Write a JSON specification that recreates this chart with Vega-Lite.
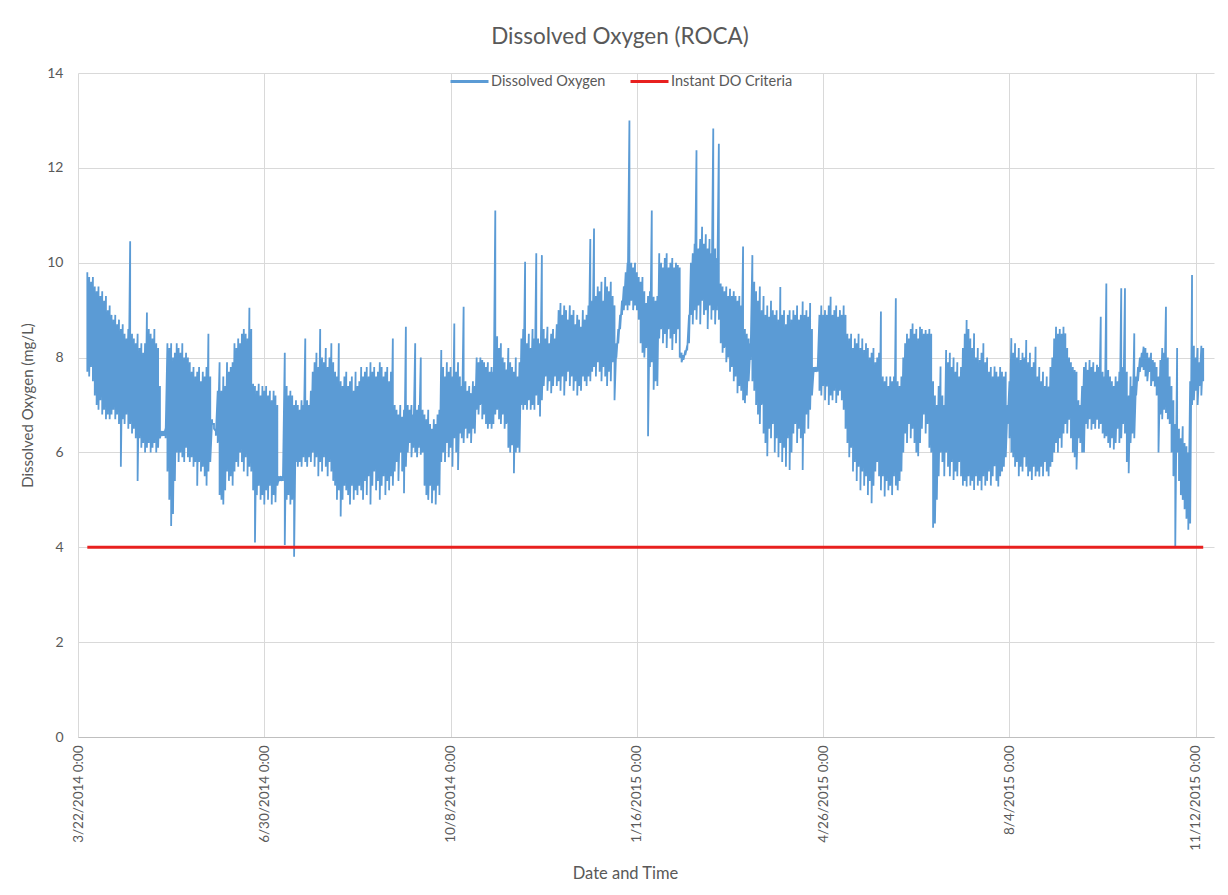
{
"$schema": "https://vega.github.io/schema/vega-lite/v6.json",
"width": 1136,
"height": 664,
"autosize": "none",
"padding": {"left": 78, "top": 73, "right": 14, "bottom": 158},
"background": "white",
"config": {"font": "Lato", "view": {"stroke": null}},
"title": {"text": "Dissolved Oxygen (ROCA)", "fontSize": 22.5, "fontWeight": "normal", "color": "#595959", "anchor": "middle", "offset": 13, "dx": -26},
"datasets": {
"do": [
{"d":"2014-03-27","h":9.8,"l":7.7},{"d":"2014-03-28","h":9.7,"l":7.6},{"d":"2014-03-29","h":9.6,"l":7.8},{"d":"2014-03-30","h":9.7,"l":7.5},{"d":"2014-03-31","h":9.5,"l":7.2},
{"d":"2014-04-01","h":9.4,"l":7.0},{"d":"2014-04-02","h":9.5,"l":6.9},{"d":"2014-04-03","h":9.3,"l":7.1},{"d":"2014-04-04","h":9.4,"l":6.8},{"d":"2014-04-05","h":9.2,"l":6.9},{"d":"2014-04-06","h":9.3,"l":6.7},{"d":"2014-04-07","h":9.0,"l":6.8},{"d":"2014-04-08","h":9.1,"l":6.7},{"d":"2014-04-09","h":8.9,"l":6.8},{"d":"2014-04-10","h":8.8,"l":6.9},{"d":"2014-04-11","h":8.9,"l":6.7},{"d":"2014-04-12","h":8.7,"l":6.8},{"d":"2014-04-13","h":8.8,"l":6.6},{"d":"2014-04-14","h":8.6,"l":5.7},{"d":"2014-04-15","h":8.7,"l":6.7},{"d":"2014-04-16","h":8.5,"l":6.6},{"d":"2014-04-17","h":8.4,"l":6.8},{"d":"2014-04-18","h":8.6,"l":6.5},{"d":"2014-04-19","h":10.45,"l":6.6},{"d":"2014-04-20","h":8.5,"l":6.4},{"d":"2014-04-21","h":8.4,"l":6.5},{"d":"2014-04-22","h":8.3,"l":6.3},{"d":"2014-04-23","h":8.5,"l":5.4},{"d":"2014-04-24","h":8.2,"l":6.3},{"d":"2014-04-25","h":8.3,"l":6.1},{"d":"2014-04-26","h":8.1,"l":6.2},{"d":"2014-04-27","h":8.3,"l":6.0},{"d":"2014-04-28","h":8.95,"l":6.1},{"d":"2014-04-29","h":8.6,"l":6.2},{"d":"2014-04-30","h":8.5,"l":6.0},
{"d":"2014-05-01","h":8.4,"l":6.1},{"d":"2014-05-02","h":8.6,"l":6.2},{"d":"2014-05-03","h":8.3,"l":6.0},{"d":"2014-05-04","h":8.2,"l":6.1},{"d":"2014-05-05","h":7.4,"l":6.3},{"d":"2014-05-06","h":6.45,"l":6.35},{"d":"2014-05-07","h":6.45,"l":6.35},{"d":"2014-05-08","h":6.5,"l":6.3},{"d":"2014-05-09","h":8.3,"l":5.6},{"d":"2014-05-10","h":8.2,"l":5.0},{"d":"2014-05-11","h":8.3,"l":4.45},{"d":"2014-05-12","h":8.0,"l":4.7},{"d":"2014-05-13","h":8.1,"l":5.4},{"d":"2014-05-14","h":8.3,"l":6.0},{"d":"2014-05-15","h":8.2,"l":5.8},{"d":"2014-05-16","h":8.1,"l":6.0},{"d":"2014-05-17","h":8.3,"l":5.9},{"d":"2014-05-18","h":8.0,"l":5.8},{"d":"2014-05-19","h":8.1,"l":6.1},{"d":"2014-05-20","h":8.0,"l":5.9},{"d":"2014-05-21","h":7.9,"l":5.8},{"d":"2014-05-22","h":7.7,"l":5.9},{"d":"2014-05-23","h":7.8,"l":5.7},{"d":"2014-05-24","h":7.6,"l":5.8},{"d":"2014-05-25","h":7.7,"l":5.3},{"d":"2014-05-26","h":7.8,"l":5.8},{"d":"2014-05-27","h":7.5,"l":5.6},{"d":"2014-05-28","h":7.7,"l":5.7},{"d":"2014-05-29","h":7.6,"l":5.5},{"d":"2014-05-30","h":7.8,"l":5.3},{"d":"2014-05-31","h":8.5,"l":5.6},
{"d":"2014-06-01","h":7.6,"l":5.8},{"d":"2014-06-02","h":6.7,"l":6.6},{"d":"2014-06-03","h":6.6,"l":6.5},{"d":"2014-06-04","h":6.45,"l":6.35},{"d":"2014-06-05","h":7.3,"l":6.2},{"d":"2014-06-06","h":7.9,"l":5.1},{"d":"2014-06-07","h":7.3,"l":5.0},{"d":"2014-06-08","h":7.6,"l":4.9},{"d":"2014-06-09","h":7.4,"l":5.2},{"d":"2014-06-10","h":7.9,"l":5.6},{"d":"2014-06-11","h":7.7,"l":5.4},{"d":"2014-06-12","h":7.8,"l":5.5},{"d":"2014-06-13","h":7.9,"l":5.3},{"d":"2014-06-14","h":8.3,"l":5.6},{"d":"2014-06-15","h":8.2,"l":5.8},{"d":"2014-06-16","h":8.4,"l":5.7},{"d":"2014-06-17","h":8.3,"l":6.0},{"d":"2014-06-18","h":8.5,"l":5.8},{"d":"2014-06-19","h":8.6,"l":5.6},{"d":"2014-06-20","h":8.5,"l":5.9},{"d":"2014-06-21","h":8.4,"l":5.5},{"d":"2014-06-22","h":9.05,"l":5.7},{"d":"2014-06-23","h":8.6,"l":5.6},{"d":"2014-06-24","h":7.45,"l":5.2},{"d":"2014-06-25","h":7.4,"l":4.1},{"d":"2014-06-26","h":7.3,"l":5.1},{"d":"2014-06-27","h":7.45,"l":5.3},{"d":"2014-06-28","h":7.2,"l":5.0},{"d":"2014-06-29","h":7.4,"l":5.1},{"d":"2014-06-30","h":7.3,"l":4.9},
{"d":"2014-07-01","h":7.4,"l":5.2},{"d":"2014-07-02","h":7.2,"l":5.0},{"d":"2014-07-03","h":7.3,"l":5.3},{"d":"2014-07-04","h":7.1,"l":4.9},{"d":"2014-07-05","h":7.3,"l":5.1},{"d":"2014-07-06","h":7.2,"l":4.95},{"d":"2014-07-07","h":7.0,"l":5.3},{"d":"2014-07-08","h":5.5,"l":5.4},{"d":"2014-07-09","h":5.5,"l":5.4},{"d":"2014-07-10","h":5.5,"l":5.4},{"d":"2014-07-11","h":8.1,"l":4.05},{"d":"2014-07-12","h":7.4,"l":5.0},{"d":"2014-07-13","h":7.2,"l":5.1},{"d":"2014-07-14","h":7.3,"l":4.9},{"d":"2014-07-15","h":7.2,"l":5.0},{"d":"2014-07-16","h":7.0,"l":3.8},{"d":"2014-07-17","h":7.1,"l":5.8},{"d":"2014-07-18","h":7.0,"l":5.7},{"d":"2014-07-19","h":6.9,"l":5.8},{"d":"2014-07-20","h":7.1,"l":5.7},{"d":"2014-07-21","h":7.0,"l":5.9},{"d":"2014-07-22","h":8.4,"l":5.8},{"d":"2014-07-23","h":7.1,"l":5.7},{"d":"2014-07-24","h":7.0,"l":5.9},{"d":"2014-07-25","h":7.3,"l":5.8},{"d":"2014-07-26","h":7.7,"l":6.0},{"d":"2014-07-27","h":7.9,"l":5.7},{"d":"2014-07-28","h":8.1,"l":5.9},{"d":"2014-07-29","h":7.8,"l":5.5},{"d":"2014-07-30","h":8.6,"l":5.8},{"d":"2014-07-31","h":8.0,"l":5.6},
{"d":"2014-08-01","h":7.9,"l":5.9},{"d":"2014-08-02","h":8.2,"l":5.7},{"d":"2014-08-03","h":7.8,"l":5.5},{"d":"2014-08-04","h":8.0,"l":5.8},{"d":"2014-08-05","h":8.3,"l":5.6},{"d":"2014-08-06","h":7.9,"l":5.4},{"d":"2014-08-07","h":7.7,"l":5.3},{"d":"2014-08-08","h":7.6,"l":5.0},{"d":"2014-08-09","h":8.3,"l":5.2},{"d":"2014-08-10","h":7.5,"l":4.65},{"d":"2014-08-11","h":7.4,"l":5.0},{"d":"2014-08-12","h":7.6,"l":5.3},{"d":"2014-08-13","h":7.7,"l":5.2},{"d":"2014-08-14","h":7.4,"l":5.1},{"d":"2014-08-15","h":7.5,"l":4.9},{"d":"2014-08-16","h":7.6,"l":5.3},{"d":"2014-08-17","h":7.3,"l":5.0},{"d":"2014-08-18","h":7.7,"l":5.2},{"d":"2014-08-19","h":7.4,"l":5.1},{"d":"2014-08-20","h":7.5,"l":5.3},{"d":"2014-08-21","h":7.8,"l":5.2},{"d":"2014-08-22","h":7.6,"l":5.0},{"d":"2014-08-23","h":7.7,"l":5.4},{"d":"2014-08-24","h":7.8,"l":5.1},{"d":"2014-08-25","h":7.6,"l":5.5},{"d":"2014-08-26","h":7.9,"l":4.9},{"d":"2014-08-27","h":7.7,"l":5.3},{"d":"2014-08-28","h":7.8,"l":5.6},{"d":"2014-08-29","h":7.6,"l":5.2},{"d":"2014-08-30","h":7.7,"l":5.4},{"d":"2014-08-31","h":7.9,"l":5.0},
{"d":"2014-09-01","h":7.8,"l":5.3},{"d":"2014-09-02","h":7.6,"l":5.5},{"d":"2014-09-03","h":7.7,"l":5.1},{"d":"2014-09-04","h":7.8,"l":5.4},{"d":"2014-09-05","h":7.5,"l":5.2},{"d":"2014-09-06","h":7.7,"l":5.5},{"d":"2014-09-07","h":8.4,"l":5.3},{"d":"2014-09-08","h":7.0,"l":5.6},{"d":"2014-09-09","h":6.9,"l":5.8},{"d":"2014-09-10","h":6.8,"l":5.4},{"d":"2014-09-11","h":7.0,"l":6.0},{"d":"2014-09-12","h":6.75,"l":5.6},{"d":"2014-09-13","h":6.9,"l":5.14},{"d":"2014-09-14","h":8.65,"l":5.7},{"d":"2014-09-15","h":7.0,"l":6.0},{"d":"2014-09-16","h":6.9,"l":6.2},{"d":"2014-09-17","h":7.0,"l":5.9},{"d":"2014-09-18","h":6.8,"l":6.1},{"d":"2014-09-19","h":8.3,"l":6.0},{"d":"2014-09-20","h":6.9,"l":5.9},{"d":"2014-09-21","h":7.0,"l":6.1},{"d":"2014-09-22","h":8.0,"l":5.95},{"d":"2014-09-23","h":6.9,"l":6.0},{"d":"2014-09-24","h":6.8,"l":5.3},{"d":"2014-09-25","h":6.7,"l":5.1},{"d":"2014-09-26","h":6.9,"l":5.0},{"d":"2014-09-27","h":6.6,"l":5.3},{"d":"2014-09-28","h":6.5,"l":4.93},{"d":"2014-09-29","h":6.7,"l":5.2},{"d":"2014-09-30","h":6.6,"l":4.9},
{"d":"2014-10-01","h":6.8,"l":5.3},{"d":"2014-10-02","h":6.9,"l":5.1},{"d":"2014-10-03","h":8.16,"l":5.8},{"d":"2014-10-04","h":7.8,"l":6.0},{"d":"2014-10-05","h":7.6,"l":5.8},{"d":"2014-10-06","h":7.9,"l":6.2},{"d":"2014-10-07","h":7.7,"l":5.9},{"d":"2014-10-08","h":7.8,"l":6.1},{"d":"2014-10-09","h":7.6,"l":5.7},{"d":"2014-10-10","h":8.72,"l":6.3},{"d":"2014-10-11","h":7.7,"l":6.0},{"d":"2014-10-12","h":7.9,"l":5.63},{"d":"2014-10-13","h":7.6,"l":6.4},{"d":"2014-10-14","h":7.4,"l":6.3},{"d":"2014-10-15","h":9.07,"l":6.2},{"d":"2014-10-16","h":7.5,"l":6.5},{"d":"2014-10-17","h":7.3,"l":6.3},{"d":"2014-10-18","h":7.4,"l":6.4},{"d":"2014-10-19","h":7.25,"l":6.2},{"d":"2014-10-20","h":7.5,"l":6.5},{"d":"2014-10-21","h":7.4,"l":6.4},{"d":"2014-10-22","h":8.0,"l":6.9},{"d":"2014-10-23","h":7.9,"l":6.8},{"d":"2014-10-24","h":8.0,"l":7.0},{"d":"2014-10-25","h":7.95,"l":6.7},{"d":"2014-10-26","h":7.9,"l":6.8},{"d":"2014-10-27","h":7.8,"l":6.6},{"d":"2014-10-28","h":7.9,"l":6.5},{"d":"2014-10-29","h":7.7,"l":6.6},{"d":"2014-10-30","h":7.8,"l":6.5},{"d":"2014-10-31","h":7.7,"l":6.6},
{"d":"2014-11-01","h":11.1,"l":6.8},{"d":"2014-11-02","h":8.45,"l":6.9},{"d":"2014-11-03","h":8.2,"l":6.7},{"d":"2014-11-04","h":8.3,"l":6.6},{"d":"2014-11-05","h":8.0,"l":6.8},{"d":"2014-11-06","h":7.9,"l":6.5},{"d":"2014-11-07","h":7.75,"l":6.6},{"d":"2014-11-08","h":8.2,"l":6.1},{"d":"2014-11-09","h":7.9,"l":6.0},{"d":"2014-11-10","h":7.8,"l":6.15},{"d":"2014-11-11","h":7.7,"l":5.56},{"d":"2014-11-12","h":8.0,"l":6.0},{"d":"2014-11-13","h":7.6,"l":6.1},{"d":"2014-11-14","h":7.9,"l":6.0},{"d":"2014-11-15","h":8.4,"l":7.0},{"d":"2014-11-16","h":8.6,"l":6.9},{"d":"2014-11-17","h":10.02,"l":7.0},{"d":"2014-11-18","h":8.3,"l":6.9},{"d":"2014-11-19","h":8.5,"l":7.1},{"d":"2014-11-20","h":8.2,"l":6.9},{"d":"2014-11-21","h":8.6,"l":7.0},{"d":"2014-11-22","h":8.4,"l":6.9},{"d":"2014-11-23","h":10.2,"l":7.2},{"d":"2014-11-24","h":8.4,"l":7.0},{"d":"2014-11-25","h":8.3,"l":6.76},{"d":"2014-11-26","h":10.16,"l":7.1},{"d":"2014-11-27","h":8.6,"l":7.4},{"d":"2014-11-28","h":8.4,"l":7.6},{"d":"2014-11-29","h":8.65,"l":7.3},{"d":"2014-11-30","h":8.3,"l":7.5},
{"d":"2014-12-01","h":8.5,"l":7.25},{"d":"2014-12-02","h":8.6,"l":7.4},{"d":"2014-12-03","h":8.4,"l":7.6},{"d":"2014-12-04","h":8.7,"l":7.4},{"d":"2014-12-05","h":9.0,"l":7.5},{"d":"2014-12-06","h":9.15,"l":7.3},{"d":"2014-12-07","h":8.9,"l":7.6},{"d":"2014-12-08","h":9.1,"l":7.2},{"d":"2014-12-09","h":9.0,"l":7.5},{"d":"2014-12-10","h":8.8,"l":7.7},{"d":"2014-12-11","h":9.1,"l":7.4},{"d":"2014-12-12","h":8.9,"l":7.6},{"d":"2014-12-13","h":9.0,"l":7.3},{"d":"2014-12-14","h":8.7,"l":7.5},{"d":"2014-12-15","h":8.9,"l":7.2},{"d":"2014-12-16","h":8.8,"l":7.4},{"d":"2014-12-17","h":8.65,"l":7.3},{"d":"2014-12-18","h":9.0,"l":7.6},{"d":"2014-12-19","h":8.8,"l":7.5},{"d":"2014-12-20","h":8.9,"l":7.4},{"d":"2014-12-21","h":9.1,"l":7.6},{"d":"2014-12-22","h":10.5,"l":7.5},{"d":"2014-12-23","h":9.2,"l":7.7},{"d":"2014-12-24","h":10.72,"l":7.8},{"d":"2014-12-25","h":9.3,"l":7.6},{"d":"2014-12-26","h":9.5,"l":7.9},{"d":"2014-12-27","h":9.4,"l":7.7},{"d":"2014-12-28","h":9.6,"l":7.5},{"d":"2014-12-29","h":9.2,"l":7.8},{"d":"2014-12-30","h":9.7,"l":7.6},{"d":"2014-12-31","h":9.5,"l":7.4},
{"d":"2015-01-01","h":9.4,"l":7.7},{"d":"2015-01-02","h":9.6,"l":7.5},{"d":"2015-01-03","h":9.3,"l":7.9},{"d":"2015-01-04","h":9.1,"l":7.1},{"d":"2015-01-05","h":8.3,"l":8.0},{"d":"2015-01-06","h":8.6,"l":8.3},{"d":"2015-01-07","h":8.9,"l":8.6},{"d":"2015-01-08","h":9.2,"l":8.9},{"d":"2015-01-09","h":9.5,"l":9.0},{"d":"2015-01-10","h":9.8,"l":9.1},{"d":"2015-01-11","h":10.0,"l":9.0},{"d":"2015-01-12","h":13.0,"l":9.1},{"d":"2015-01-13","h":10.0,"l":9.2},{"d":"2015-01-14","h":9.9,"l":9.0},{"d":"2015-01-15","h":10.0,"l":9.1},{"d":"2015-01-16","h":9.8,"l":9.0},{"d":"2015-01-17","h":9.7,"l":8.8},{"d":"2015-01-18","h":9.6,"l":8.3},{"d":"2015-01-19","h":9.7,"l":8.1},{"d":"2015-01-20","h":9.4,"l":8.0},{"d":"2015-01-21","h":9.15,"l":8.2},{"d":"2015-01-22","h":9.3,"l":6.34},{"d":"2015-01-23","h":9.4,"l":7.8},{"d":"2015-01-24","h":11.1,"l":7.9},{"d":"2015-01-25","h":9.28,"l":7.32},{"d":"2015-01-26","h":9.2,"l":7.5},{"d":"2015-01-27","h":9.3,"l":7.4},{"d":"2015-01-28","h":10.2,"l":8.4},{"d":"2015-01-29","h":10.0,"l":8.6},{"d":"2015-01-30","h":9.9,"l":8.3},{"d":"2015-01-31","h":10.1,"l":8.5},
{"d":"2015-02-01","h":10.2,"l":8.2},{"d":"2015-02-02","h":9.9,"l":8.6},{"d":"2015-02-03","h":10.0,"l":8.4},{"d":"2015-02-04","h":10.1,"l":8.16},{"d":"2015-02-05","h":9.9,"l":8.5},{"d":"2015-02-06","h":10.0,"l":8.3},{"d":"2015-02-07","h":9.95,"l":8.6},{"d":"2015-02-08","h":9.9,"l":8.0},{"d":"2015-02-09","h":8.1,"l":7.9},{"d":"2015-02-10","h":8.05,"l":7.95},{"d":"2015-02-11","h":8.15,"l":8.05},{"d":"2015-02-12","h":8.25,"l":8.15},{"d":"2015-02-13","h":8.9,"l":8.3},{"d":"2015-02-14","h":10.0,"l":8.9},{"d":"2015-02-15","h":10.2,"l":8.7},{"d":"2015-02-16","h":10.4,"l":9.0},{"d":"2015-02-17","h":12.37,"l":8.8},{"d":"2015-02-18","h":10.3,"l":9.1},{"d":"2015-02-19","h":10.5,"l":8.7},{"d":"2015-02-20","h":10.76,"l":9.2},{"d":"2015-02-21","h":10.4,"l":8.9},{"d":"2015-02-22","h":10.6,"l":9.0},{"d":"2015-02-23","h":10.3,"l":8.6},{"d":"2015-02-24","h":10.5,"l":9.1},{"d":"2015-02-25","h":10.2,"l":8.8},{"d":"2015-02-26","h":12.83,"l":9.0},{"d":"2015-02-27","h":10.3,"l":8.7},{"d":"2015-02-28","h":10.1,"l":9.0},
{"d":"2015-03-01","h":12.51,"l":8.8},{"d":"2015-03-02","h":9.56,"l":8.3},{"d":"2015-03-03","h":9.5,"l":8.1},{"d":"2015-03-04","h":9.4,"l":8.2},{"d":"2015-03-05","h":9.5,"l":7.9},{"d":"2015-03-06","h":9.3,"l":8.0},{"d":"2015-03-07","h":9.45,"l":7.7},{"d":"2015-03-08","h":9.3,"l":7.8},{"d":"2015-03-09","h":9.4,"l":7.5},{"d":"2015-03-10","h":9.3,"l":7.6},{"d":"2015-03-11","h":9.2,"l":7.25},{"d":"2015-03-12","h":9.3,"l":7.4},{"d":"2015-03-13","h":9.1,"l":7.3},{"d":"2015-03-14","h":10.34,"l":7.1},{"d":"2015-03-15","h":8.6,"l":7.04},{"d":"2015-03-16","h":8.5,"l":7.2},{"d":"2015-03-17","h":8.4,"l":7.5},{"d":"2015-03-18","h":8.3,"l":7.95},{"d":"2015-03-19","h":10.16,"l":7.5},{"d":"2015-03-20","h":9.6,"l":7.3},{"d":"2015-03-21","h":9.4,"l":7.0},{"d":"2015-03-22","h":9.2,"l":6.8},{"d":"2015-03-23","h":9.5,"l":6.6},{"d":"2015-03-24","h":9.0,"l":7.0},{"d":"2015-03-25","h":9.3,"l":6.4},{"d":"2015-03-26","h":8.9,"l":6.2},{"d":"2015-03-27","h":9.1,"l":5.92},{"d":"2015-03-28","h":8.86,"l":6.5},{"d":"2015-03-29","h":9.2,"l":6.3},{"d":"2015-03-30","h":9.0,"l":6.6},{"d":"2015-03-31","h":8.9,"l":6.0},
{"d":"2015-04-01","h":9.0,"l":6.3},{"d":"2015-04-02","h":8.8,"l":5.9},{"d":"2015-04-03","h":9.49,"l":6.2},{"d":"2015-04-04","h":8.9,"l":5.8},{"d":"2015-04-05","h":9.0,"l":6.1},{"d":"2015-04-06","h":8.7,"l":5.7},{"d":"2015-04-07","h":8.9,"l":6.3},{"d":"2015-04-08","h":9.0,"l":5.63},{"d":"2015-04-09","h":8.8,"l":6.0},{"d":"2015-04-10","h":9.0,"l":6.4},{"d":"2015-04-11","h":8.9,"l":6.6},{"d":"2015-04-12","h":9.1,"l":6.2},{"d":"2015-04-13","h":8.8,"l":6.5},{"d":"2015-04-14","h":8.9,"l":6.3},{"d":"2015-04-15","h":9.18,"l":5.63},{"d":"2015-04-16","h":8.9,"l":6.4},{"d":"2015-04-17","h":9.0,"l":6.8},{"d":"2015-04-18","h":8.86,"l":6.5},{"d":"2015-04-19","h":9.15,"l":6.9},{"d":"2015-04-20","h":8.6,"l":7.2},{"d":"2015-04-21","h":7.8,"l":7.7},{"d":"2015-04-22","h":7.8,"l":7.7},{"d":"2015-04-23","h":7.8,"l":7.7},{"d":"2015-04-24","h":8.9,"l":7.3},{"d":"2015-04-25","h":9.1,"l":7.2},{"d":"2015-04-26","h":8.9,"l":7.4},{"d":"2015-04-27","h":9.0,"l":7.1},{"d":"2015-04-28","h":8.9,"l":7.39},{"d":"2015-04-29","h":9.1,"l":7.0},{"d":"2015-04-30","h":9.28,"l":7.2},
{"d":"2015-05-01","h":8.9,"l":7.1},{"d":"2015-05-02","h":9.0,"l":7.3},{"d":"2015-05-03","h":9.1,"l":7.04},{"d":"2015-05-04","h":8.86,"l":7.2},{"d":"2015-05-05","h":9.0,"l":7.3},{"d":"2015-05-06","h":8.9,"l":7.1},{"d":"2015-05-07","h":9.1,"l":6.9},{"d":"2015-05-08","h":8.9,"l":6.5},{"d":"2015-05-09","h":8.5,"l":6.2},{"d":"2015-05-10","h":8.4,"l":5.9},{"d":"2015-05-11","h":8.5,"l":6.1},{"d":"2015-05-12","h":8.2,"l":5.6},{"d":"2015-05-13","h":8.4,"l":5.8},{"d":"2015-05-14","h":8.3,"l":5.4},{"d":"2015-05-15","h":8.5,"l":5.7},{"d":"2015-05-16","h":8.2,"l":5.2},{"d":"2015-05-17","h":8.4,"l":5.6},{"d":"2015-05-18","h":8.16,"l":5.3},{"d":"2015-05-19","h":8.3,"l":5.5},{"d":"2015-05-20","h":8.2,"l":5.1},{"d":"2015-05-21","h":8.0,"l":5.4},{"d":"2015-05-22","h":8.1,"l":4.93},{"d":"2015-05-23","h":8.2,"l":5.3},{"d":"2015-05-24","h":7.9,"l":5.6},{"d":"2015-05-25","h":8.0,"l":5.8},{"d":"2015-05-26","h":8.1,"l":5.5},{"d":"2015-05-27","h":8.97,"l":5.2},{"d":"2015-05-28","h":7.6,"l":5.5},{"d":"2015-05-29","h":7.5,"l":5.07},{"d":"2015-05-30","h":7.6,"l":5.4},{"d":"2015-05-31","h":7.4,"l":5.2},
{"d":"2015-06-01","h":7.6,"l":5.3},{"d":"2015-06-02","h":7.5,"l":5.1},{"d":"2015-06-03","h":7.6,"l":5.5},{"d":"2015-06-04","h":9.25,"l":5.3},{"d":"2015-06-05","h":7.5,"l":5.2},{"d":"2015-06-06","h":7.4,"l":5.4},{"d":"2015-06-07","h":7.6,"l":5.6},{"d":"2015-06-08","h":8.0,"l":6.0},{"d":"2015-06-09","h":8.3,"l":6.4},{"d":"2015-06-10","h":8.5,"l":6.2},{"d":"2015-06-11","h":8.4,"l":6.6},{"d":"2015-06-12","h":8.6,"l":6.3},{"d":"2015-06-13","h":8.72,"l":6.5},{"d":"2015-06-14","h":8.5,"l":6.2},{"d":"2015-06-15","h":8.6,"l":6.0},{"d":"2015-06-16","h":8.4,"l":5.92},{"d":"2015-06-17","h":8.65,"l":6.2},{"d":"2015-06-18","h":8.6,"l":6.5},{"d":"2015-06-19","h":8.5,"l":6.8},{"d":"2015-06-20","h":8.58,"l":6.4},{"d":"2015-06-21","h":8.5,"l":6.6},{"d":"2015-06-22","h":8.6,"l":6.1},{"d":"2015-06-23","h":8.5,"l":6.0},{"d":"2015-06-24","h":7.5,"l":4.41},{"d":"2015-06-25","h":7.2,"l":4.5},{"d":"2015-06-26","h":7.0,"l":5.0},{"d":"2015-06-27","h":7.4,"l":5.5},{"d":"2015-06-28","h":7.81,"l":6.0},{"d":"2015-06-29","h":7.2,"l":5.8},{"d":"2015-06-30","h":7.0,"l":5.5},
{"d":"2015-07-01","h":8.16,"l":6.0},{"d":"2015-07-02","h":7.9,"l":5.7},{"d":"2015-07-03","h":8.1,"l":5.5},{"d":"2015-07-04","h":7.8,"l":5.8},{"d":"2015-07-05","h":8.0,"l":5.42},{"d":"2015-07-06","h":7.7,"l":5.6},{"d":"2015-07-07","h":7.9,"l":5.5},{"d":"2015-07-08","h":7.6,"l":5.8},{"d":"2015-07-09","h":7.8,"l":5.5},{"d":"2015-07-10","h":8.2,"l":5.3},{"d":"2015-07-11","h":8.5,"l":5.4},{"d":"2015-07-12","h":8.79,"l":5.28},{"d":"2015-07-13","h":8.6,"l":5.5},{"d":"2015-07-14","h":8.4,"l":5.3},{"d":"2015-07-15","h":8.2,"l":5.4},{"d":"2015-07-16","h":8.51,"l":5.21},{"d":"2015-07-17","h":8.0,"l":5.5},{"d":"2015-07-18","h":8.2,"l":5.3},{"d":"2015-07-19","h":7.95,"l":5.4},{"d":"2015-07-20","h":8.1,"l":5.2},{"d":"2015-07-21","h":8.3,"l":5.5},{"d":"2015-07-22","h":7.9,"l":5.3},{"d":"2015-07-23","h":8.0,"l":5.4},{"d":"2015-07-24","h":7.7,"l":5.6},{"d":"2015-07-25","h":7.8,"l":5.3},{"d":"2015-07-26","h":7.6,"l":5.5},{"d":"2015-07-27","h":7.81,"l":5.71},{"d":"2015-07-28","h":7.7,"l":5.4},{"d":"2015-07-29","h":7.6,"l":5.28},{"d":"2015-07-30","h":7.8,"l":5.5},{"d":"2015-07-31","h":7.7,"l":5.6},
{"d":"2015-08-01","h":7.6,"l":5.7},{"d":"2015-08-02","h":7.7,"l":5.9},{"d":"2015-08-03","h":7.0,"l":6.6},{"d":"2015-08-04","h":7.5,"l":6.3},{"d":"2015-08-05","h":8.41,"l":6.0},{"d":"2015-08-06","h":8.1,"l":5.9},{"d":"2015-08-07","h":8.3,"l":5.7},{"d":"2015-08-08","h":8.0,"l":5.8},{"d":"2015-08-09","h":8.2,"l":5.5},{"d":"2015-08-10","h":7.95,"l":5.7},{"d":"2015-08-11","h":8.1,"l":5.6},{"d":"2015-08-12","h":8.0,"l":5.9},{"d":"2015-08-13","h":8.37,"l":5.7},{"d":"2015-08-14","h":7.9,"l":5.5},{"d":"2015-08-15","h":8.1,"l":5.6},{"d":"2015-08-16","h":7.8,"l":5.42},{"d":"2015-08-17","h":7.9,"l":5.7},{"d":"2015-08-18","h":8.23,"l":5.5},{"d":"2015-08-19","h":7.6,"l":5.6},{"d":"2015-08-20","h":7.8,"l":5.49},{"d":"2015-08-21","h":7.5,"l":5.7},{"d":"2015-08-22","h":7.7,"l":5.5},{"d":"2015-08-23","h":7.4,"l":5.8},{"d":"2015-08-24","h":7.6,"l":5.6},{"d":"2015-08-25","h":7.39,"l":5.5},{"d":"2015-08-26","h":7.8,"l":5.7},{"d":"2015-08-27","h":8.0,"l":5.8},{"d":"2015-08-28","h":8.4,"l":6.0},{"d":"2015-08-29","h":8.65,"l":6.2},{"d":"2015-08-30","h":8.5,"l":6.0},{"d":"2015-08-31","h":8.6,"l":6.3},
{"d":"2015-09-01","h":8.5,"l":6.1},{"d":"2015-09-02","h":8.65,"l":6.4},{"d":"2015-09-03","h":8.51,"l":6.6},{"d":"2015-09-04","h":8.2,"l":6.4},{"d":"2015-09-05","h":8.0,"l":6.69},{"d":"2015-09-06","h":7.9,"l":6.3},{"d":"2015-09-07","h":7.8,"l":6.0},{"d":"2015-09-08","h":7.74,"l":5.9},{"d":"2015-09-09","h":7.7,"l":5.64},{"d":"2015-09-10","h":7.1,"l":6.3},{"d":"2015-09-11","h":7.0,"l":6.2},{"d":"2015-09-12","h":7.4,"l":6.0},{"d":"2015-09-13","h":7.8,"l":6.0},{"d":"2015-09-14","h":7.9,"l":6.6},{"d":"2015-09-15","h":7.74,"l":6.5},{"d":"2015-09-16","h":7.95,"l":6.7},{"d":"2015-09-17","h":7.8,"l":6.48},{"d":"2015-09-18","h":7.9,"l":6.6},{"d":"2015-09-19","h":7.7,"l":6.5},{"d":"2015-09-20","h":7.85,"l":6.69},{"d":"2015-09-21","h":7.8,"l":6.5},{"d":"2015-09-22","h":8.86,"l":6.6},{"d":"2015-09-23","h":7.7,"l":6.4},{"d":"2015-09-24","h":7.6,"l":6.3},{"d":"2015-09-25","h":9.56,"l":6.34},{"d":"2015-09-26","h":7.74,"l":6.2},{"d":"2015-09-27","h":7.6,"l":6.1},{"d":"2015-09-28","h":7.5,"l":6.3},{"d":"2015-09-29","h":7.4,"l":6.06},{"d":"2015-09-30","h":7.6,"l":6.2},
{"d":"2015-10-01","h":7.5,"l":6.5},{"d":"2015-10-02","h":7.7,"l":6.2},{"d":"2015-10-03","h":9.46,"l":6.3},{"d":"2015-10-04","h":7.8,"l":6.6},{"d":"2015-10-05","h":9.46,"l":6.4},{"d":"2015-10-06","h":7.7,"l":5.8},{"d":"2015-10-07","h":7.2,"l":5.56},{"d":"2015-10-08","h":7.6,"l":6.2},{"d":"2015-10-09","h":7.4,"l":6.4},{"d":"2015-10-10","h":8.51,"l":6.3},{"d":"2015-10-11","h":7.6,"l":7.2},{"d":"2015-10-12","h":7.8,"l":7.5},{"d":"2015-10-13","h":8.0,"l":7.7},{"d":"2015-10-14","h":8.1,"l":7.8},{"d":"2015-10-15","h":8.23,"l":7.74},{"d":"2015-10-16","h":8.2,"l":7.6},{"d":"2015-10-17","h":8.1,"l":7.5},{"d":"2015-10-18","h":8.0,"l":7.7},{"d":"2015-10-19","h":8.1,"l":7.4},{"d":"2015-10-20","h":7.95,"l":7.5},{"d":"2015-10-21","h":7.9,"l":7.39},{"d":"2015-10-22","h":7.8,"l":7.2},{"d":"2015-10-23","h":7.6,"l":6.0},{"d":"2015-10-24","h":7.95,"l":6.8},{"d":"2015-10-25","h":8.2,"l":6.7},{"d":"2015-10-26","h":8.1,"l":6.9},{"d":"2015-10-27","h":9.07,"l":6.83},{"d":"2015-10-28","h":8.0,"l":6.7},{"d":"2015-10-29","h":7.6,"l":6.6},{"d":"2015-10-30","h":7.4,"l":6.0},{"d":"2015-10-31","h":7.1,"l":5.5},
{"d":"2015-11-01","h":6.6,"l":4.0},{"d":"2015-11-02","h":8.2,"l":6.0},{"d":"2015-11-03","h":6.5,"l":5.4},{"d":"2015-11-04","h":6.3,"l":5.1},{"d":"2015-11-05","h":6.55,"l":5.0},{"d":"2015-11-06","h":6.2,"l":4.8},{"d":"2015-11-07","h":6.13,"l":4.6},{"d":"2015-11-08","h":6.0,"l":4.37},{"d":"2015-11-09","h":7.5,"l":4.5},{"d":"2015-11-10","h":9.74,"l":7.0},{"d":"2015-11-11","h":8.25,"l":7.1},{"d":"2015-11-12","h":8.0,"l":7.3},{"d":"2015-11-13","h":8.2,"l":7.0},{"d":"2015-11-14","h":7.9,"l":7.4},{"d":"2015-11-15","h":8.25,"l":7.2},{"d":"2015-11-16","h":8.2,"l":7.5}
],
"crit": [{"d":"2014-03-27","v":4},{"d":"2015-11-16","v":4}]
},
"layer": [
{
"data": {"name": "do"},
"transform": [{"fold": ["h", "l"], "as": ["k", "v"]}],
"mark": {"type": "line", "strokeWidth": 1.8, "strokeJoin": "miter"},
"encoding": {
"x": {"field": "d", "type": "temporal",
"scale": {"type": "utc", "nice": false, "domain": [{"year": 2014, "month": 3, "date": 22, "utc": true}, {"year": 2015, "month": 11, "date": 21, "hours": 19, "utc": true}]},
"axis": {"values": [{"year": 2014, "month": 3, "date": 22, "utc": true}, {"year": 2014, "month": 6, "date": 30, "utc": true}, {"year": 2014, "month": 10, "date": 8, "utc": true}, {"year": 2015, "month": 1, "date": 16, "utc": true}, {"year": 2015, "month": 4, "date": 26, "utc": true}, {"year": 2015, "month": 8, "date": 4, "utc": true}, {"year": 2015, "month": 11, "date": 12, "utc": true}],
"labelExpr": "utcFormat(datum.value, '%-m/%-d/%Y %-H:%M')", "labelAngle": -90, "labelPadding": 8, "labelFontSize": 13.5, "labelColor": "#595959", "labelOverlap": false, "labelFlush": false,
"grid": true, "gridColor": "#D9D9D9", "domainColor": "#BFBFBF", "ticks": false,
"title": "Date and Time", "titleFontSize": 16.5, "titleFontWeight": "normal", "titleColor": "#595959", "titlePadding": 15, "titleX": 547}},
"y": {"field": "v", "type": "quantitative",
"scale": {"domain": [0, 14], "nice": false},
"axis": {"values": [0, 2, 4, 6, 8, 10, 12, 14], "grid": true, "gridColor": "#D9D9D9", "domain": false, "ticks": false, "labelPadding": 15, "labelFontSize": 14, "labelColor": "#595959",
"title": "Dissolved Oxygen (mg/L)", "titleFontSize": 15, "titleFontWeight": "normal", "titleColor": "#595959", "titlePadding": 11}},
"color": {"datum": "Dissolved Oxygen", "type": "nominal",
"scale": {"domain": ["Dissolved Oxygen", "Instant DO Criteria"], "range": ["#5B9BD5", "#E8201F"]},
"legend": {"title": null, "orient": "none", "legendX": 371, "legendY": -12, "direction": "horizontal", "symbolType": "stroke", "symbolSize": 1444, "symbolStrokeWidth": 3, "labelFontSize": 14.5, "labelColor": "#595959", "labelOffset": 1, "columnPadding": 18, "padding": 0}}
}
},
{
"data": {"name": "crit"},
"mark": {"type": "line", "strokeWidth": 3},
"encoding": {
"x": {"field": "d", "type": "temporal"},
"y": {"field": "v", "type": "quantitative"},
"color": {"datum": "Instant DO Criteria", "type": "nominal"}
}
}
]
}
